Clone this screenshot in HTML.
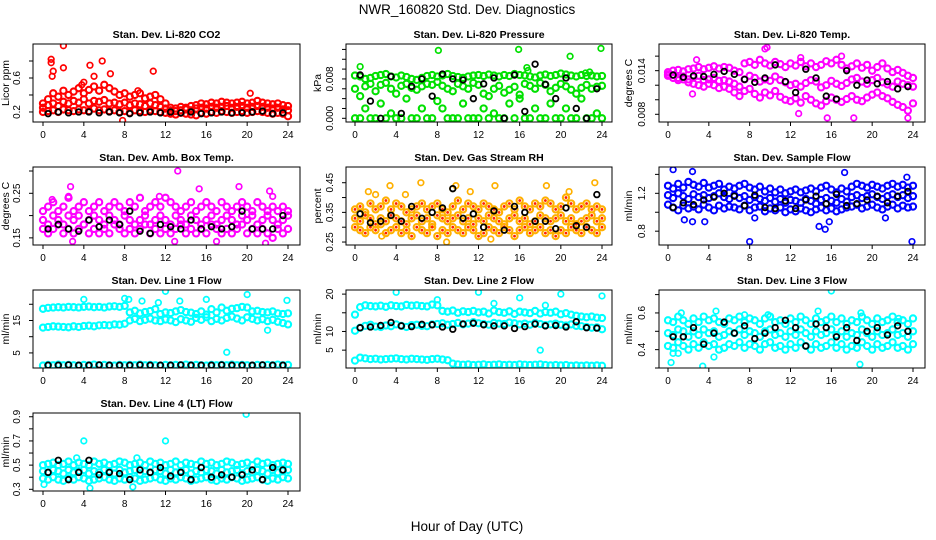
<!DOCTYPE html>
<html><head><meta charset="utf-8">
<style>
html,body{margin:0;padding:0;background:#fff;}
svg{display:block;font-family:"Liberation Sans",Arial,sans-serif;}
</style></head>
<body>
<svg id="chart" width="936" height="540" viewBox="0 0 936 540" xmlns="http://www.w3.org/2000/svg">
<text x="467" y="14" font-size="13.5" text-anchor="middle">NWR_160820  Std. Dev. Diagnostics</text>
<text x="467" y="531" font-size="13.5" text-anchor="middle">Hour of Day (UTC)</text>
</svg>
<script>
const xTicks = [0,4,8,12,16,20,24];

const co2A = [0.30,0.35,0.42,0.38,0.45,0.40,0.44,0.48,0.42,0.46,0.50,0.45,0.52,0.48,0.44,0.40,0.42,0.38,0.40,0.42,0.36,0.38,0.40,0.35,0.30,0.25,0.24,0.26,0.25,0.27,0.28,0.30,0.29,0.31,0.30,0.32,0.31,0.30,0.31,0.32,0.30,0.31,0.33,0.31,0.30,0.29,0.30,0.28,0.27];
const co2B = [0.25,0.28,0.30,0.27,0.32,0.30,0.33,0.31,0.35,0.30,0.33,0.32,0.34,0.30,0.31,0.29,0.31,0.28,0.30,0.29,0.27,0.30,0.28,0.26,0.24,0.22,0.21,0.22,0.23,0.22,0.24,0.25,0.24,0.26,0.25,0.26,0.27,0.25,0.26,0.27,0.25,0.26,0.27,0.26,0.25,0.24,0.25,0.23,0.22];
const co2C = [0.20,0.21,0.22,0.20,0.23,0.22,0.21,0.23,0.22,0.21,0.24,0.22,0.23,0.21,0.22,0.20,0.21,0.19,0.22,0.21,0.20,0.22,0.21,0.20,0.19,0.18,0.17,0.19,0.18,0.17,0.16,0.19,0.18,0.20,0.19,0.21,0.20,0.19,0.20,0.21,0.19,0.20,0.21,0.20,0.19,0.18,0.19,0.18,0.15];
const co2Out = [[0.8,0.82],[0.8,0.78],[2,0.98],[2,0.72],[1,0.68],[0.9,0.62],[5,0.62],[4.6,0.75],[5.8,0.8],[6.6,0.65],[10.8,0.68],[3.8,0.52],[4,0.55],[7.8,0.1],[9.3,0.45],[20.3,0.42]];
const co2Black = [0.18,0.2,0.19,0.2,0.2,0.19,0.2,0.19,0.18,0.19,0.2,0.19,0.2,0.19,0.2,0.18,0.19,0.2,0.19,0.19,0.2,0.21,0.18,0.19];

const presA = [0.0087,0.0085,0.0080,0.0082,0.0086,0.0088,0.0090,0.0085,0.0083,0.0087,0.0084,0.0080,0.0078,0.0082,0.0086,0.0088,0.0085,0.0087,0.0090,0.0086,0.0084,0.0082,0.0085,0.0087,0.0088,0.0086,0.0089,0.0087,0.0085,0.0088,0.0086,0.0090,0.0088,0.0087,0.0085,0.0083,0.0087,0.0089,0.0086,0.0088,0.0091,0.0089,0.0087,0.0085,0.0088,0.0086,0.0087,0.0085,0.0086];
const presB = [0.0060,0.0045,0.0065,0.0070,0.0055,0.0068,0.0072,0.0060,0.0050,0.0066,0.0070,0.0062,0.0058,0.0065,0.0070,0.0068,0.0074,0.0066,0.0060,0.0055,0.0070,0.0065,0.0060,0.0072,0.0068,0.0050,0.0045,0.0060,0.0066,0.0052,0.0058,0.0064,0.0048,0.0070,0.0066,0.0060,0.0072,0.0068,0.0055,0.0062,0.0070,0.0065,0.0058,0.0050,0.0062,0.0068,0.0060,0.0064,0.0066];
const presC = [0,0,0.002,0,0,0.003,0,0.001,0,0,0.004,0,0,0.002,0,0,0.0035,0.002,0,0,0,0.003,0,0,0,0.002,0,0.001,0,0,0.003,0,0.004,0,0,0.002,0,0,0.003,0,0,0.002,0,0,0.004,0,0,0.001,0];
const presOut = [[0.5,0.0105],[8.1,0.0138],[15.9,0.014],[16.7,0.0103],[16.8,0.0097],[20.9,0.0126],[23.9,0.0142],[22.4,0.0092],[22.8,0.0094]];
const presBlack = [0.0088,0.0035,0,0.0085,0.001,0.0065,0.008,0.0045,0.0090,0.0080,0.0078,0.0040,0.007,0.0082,0,0.0088,0.0014,0.0110,0.0069,0.004,0.0082,0.0020,0,0.0060];

const tempA = [0.0138,0.0140,0.0141,0.0139,0.0142,0.0143,0.0145,0.0142,0.0144,0.0146,0.0143,0.0145,0.0144,0.0140,0.0138,0.0150,0.0152,0.0148,0.0155,0.0150,0.0147,0.0152,0.0149,0.0145,0.0150,0.0147,0.0152,0.0146,0.0150,0.0145,0.0148,0.0153,0.0150,0.0155,0.0148,0.0143,0.0146,0.0150,0.0144,0.0148,0.0140,0.0145,0.0150,0.0143,0.0138,0.0141,0.0137,0.0133,0.0130];
const tempB = [0.0135,0.0134,0.0130,0.0132,0.0128,0.0131,0.0133,0.0127,0.0128,0.0130,0.0126,0.0127,0.0125,0.0122,0.0118,0.0128,0.0133,0.0130,0.0125,0.0128,0.0126,0.0132,0.0127,0.0124,0.0120,0.0122,0.0118,0.0123,0.0127,0.0125,0.0117,0.0120,0.0126,0.0122,0.0119,0.0123,0.0128,0.0130,0.0125,0.0122,0.0127,0.0130,0.0124,0.0121,0.0118,0.0125,0.0122,0.0120,0.0118];
const tempC = [0.0133,0.0130,0.0127,0.0128,0.0124,0.0122,0.0120,0.0118,0.0122,0.0120,0.0116,0.0118,0.0115,0.0110,0.0105,0.0112,0.0115,0.0108,0.0103,0.0110,0.0106,0.0112,0.0104,0.0100,0.0098,0.0102,0.0096,0.0105,0.0100,0.0095,0.0092,0.0098,0.0103,0.0100,0.0097,0.0101,0.0105,0.0100,0.0098,0.0103,0.0107,0.0110,0.0105,0.0102,0.0097,0.0093,0.0090,0.0085,0.0095];
const tempOut = [[2.4,0.0108],[9.5,0.0170],[9.7,0.0172],[12.8,0.0081],[15.6,0.0075],[18.2,0.0075],[23.5,0.0075],[17,0.0160],[13,0.0158],[2.8,0.0155]];
const tempBlack = [0.0134,0.0131,0.0133,0.0132,0.0135,0.0139,0.0135,0.0128,0.0124,0.0130,0.0148,0.0125,0.0110,0.0142,0.0130,0.0105,0.0101,0.0140,0.0120,0.0127,0.0122,0.0125,0.0115,0.0118];

const ambA = [0.21,0.22,0.23,0.21,0.22,0.24,0.21,0.22,0.23,0.21,0.22,0.23,0.21,0.22,0.23,0.22,0.21,0.23,0.22,0.24,0.21,0.22,0.23,0.22,0.24,0.23,0.22,0.21,0.22,0.23,0.21,0.22,0.23,0.22,0.21,0.23,0.22,0.21,0.22,0.23,0.22,0.21,0.23,0.22,0.21,0.22,0.21,0.22,0.21];
const ambB = [0.19,0.18,0.20,0.19,0.18,0.20,0.19,0.20,0.18,0.19,0.20,0.19,0.18,0.20,0.19,0.18,0.20,0.19,0.18,0.19,0.20,0.18,0.19,0.20,0.19,0.18,0.20,0.19,0.18,0.20,0.19,0.18,0.19,0.20,0.18,0.19,0.20,0.19,0.18,0.20,0.19,0.20,0.18,0.19,0.20,0.19,0.18,0.19,0.20];
const ambC = [0.17,0.16,0.17,0.18,0.16,0.17,0.16,0.17,0.18,0.16,0.17,0.16,0.17,0.16,0.18,0.17,0.16,0.17,0.16,0.17,0.18,0.16,0.17,0.16,0.17,0.16,0.17,0.18,0.16,0.17,0.16,0.17,0.16,0.18,0.17,0.16,0.17,0.16,0.17,0.18,0.16,0.17,0.16,0.17,0.16,0.15,0.17,0.16,0.17];
const ambOut = [[2.7,0.265],[2.5,0.243],[13.2,0.30],[15.3,0.26],[19.2,0.265],[22.2,0.255],[22.5,0.243],[2.9,0.142],[12.9,0.142],[17,0.142],[21.8,0.138],[0.9,0.236],[11.4,0.243]];
const ambBlack = [0.17,0.18,0.17,0.165,0.19,0.175,0.19,0.18,0.21,0.165,0.16,0.18,0.175,0.17,0.19,0.17,0.175,0.17,0.175,0.21,0.17,0.17,0.17,0.2];

const rhA = [0.36,0.37,0.35,0.38,0.36,0.37,0.39,0.36,0.38,0.37,0.35,0.36,0.37,0.38,0.36,0.37,0.38,0.36,0.35,0.37,0.39,0.36,0.38,0.37,0.36,0.38,0.37,0.36,0.35,0.37,0.38,0.36,0.39,0.37,0.36,0.38,0.37,0.39,0.38,0.36,0.37,0.40,0.38,0.36,0.37,0.38,0.36,0.37,0.36];
const rhB = [0.33,0.32,0.34,0.33,0.31,0.33,0.32,0.34,0.33,0.32,0.31,0.33,0.34,0.32,0.33,0.31,0.34,0.33,0.32,0.33,0.34,0.32,0.33,0.31,0.33,0.32,0.34,0.33,0.32,0.31,0.33,0.34,0.32,0.33,0.31,0.32,0.34,0.33,0.32,0.33,0.34,0.32,0.33,0.31,0.32,0.33,0.34,0.32,0.33];
const rhC = [0.30,0.29,0.28,0.30,0.29,0.31,0.28,0.29,0.30,0.28,0.29,0.27,0.30,0.29,0.28,0.30,0.27,0.29,0.28,0.30,0.29,0.28,0.30,0.29,0.27,0.28,0.30,0.29,0.28,0.30,0.29,0.27,0.29,0.30,0.28,0.29,0.30,0.28,0.29,0.27,0.29,0.28,0.30,0.29,0.28,0.30,0.29,0.28,0.30];
const rhOut = [[1.3,0.42],[2,0.41],[3.4,0.44],[6.4,0.45],[9.5,0.43],[9.8,0.44],[11.2,0.42],[13.6,0.44],[18.6,0.44],[20.8,0.42],[23.3,0.45],[8.9,0.25],[13.2,0.26],[2.6,0.27],[4.9,0.41]];
const rhBlack = [0.345,0.315,0.32,0.34,0.32,0.37,0.33,0.35,0.365,0.43,0.33,0.345,0.30,0.355,0.29,0.37,0.35,0.32,0.32,0.295,0.365,0.305,0.30,0.41];

const flowA = [1.28,1.25,1.30,1.26,1.32,1.29,1.27,1.31,1.26,1.28,1.30,1.24,1.27,1.25,1.28,1.30,1.26,1.24,1.27,1.22,1.25,1.21,1.24,1.20,1.22,1.24,1.21,1.23,1.25,1.22,1.26,1.28,1.24,1.21,1.25,1.22,1.27,1.30,1.28,1.26,1.29,1.27,1.25,1.28,1.30,1.27,1.29,1.26,1.28];
const flowB = [1.18,1.15,1.20,1.17,1.14,1.19,1.16,1.18,1.15,1.17,1.20,1.16,1.14,1.18,1.15,1.17,1.13,1.16,1.14,1.12,1.15,1.11,1.14,1.10,1.13,1.12,1.10,1.14,1.12,1.09,1.13,1.15,1.12,1.10,1.14,1.11,1.16,1.18,1.15,1.17,1.19,1.16,1.14,1.17,1.19,1.16,1.18,1.15,1.17];
const flowC = [1.08,1.05,1.02,1.07,1.04,1.06,1.03,1.08,1.05,1.02,1.07,1.04,1.06,1.05,1.03,1.07,1.02,1.05,1.06,1.01,1.04,1.02,1.05,1.00,1.03,1.01,1.04,1.02,1.00,1.03,1.05,1.02,1.04,1.01,1.03,1.05,1.06,1.08,1.04,1.06,1.08,1.05,1.03,1.06,1.08,1.04,1.07,1.05,1.06];
const flowOut = [[0.5,1.45],[1.6,0.92],[2.4,1.43],[2.4,0.9],[3.6,0.9],[8,0.69],[8.5,0.94],[14.8,0.85],[15.4,0.82],[15.8,0.9],[17.3,1.42],[21.3,0.94],[23.9,0.69],[23.4,1.37]];
const flowBlack = [1.05,1.1,1.08,1.13,1.16,1.2,1.17,1.07,1.18,1.05,1.04,1.12,1.04,1.13,1.17,1.09,1.19,1.07,1.09,1.13,1.17,1.1,1.17,1.22];

const l1A = [18.6,18.9,19.0,19.1,19.0,19.2,19.1,19.0,19.2,19.3,19.1,19.2,19.0,19.3,19.4,19.2,19.5,17.5,18.0,17.2,17.6,17.9,18.5,17.0,17.5,17.3,17.8,18.2,17.6,17.4,17.0,17.8,16.8,18.5,17.5,19.0,18.0,18.6,18.8,19.2,19.0,17.8,18.0,17.6,17.5,17.8,17.2,17.0,17.2];
const l1B = [12.8,13.0,13.2,13.1,13.0,12.9,13.2,13.0,13.3,13.4,13.2,13.5,13.6,13.5,13.8,13.7,14.0,15.0,15.5,14.8,15.2,15.6,15.0,14.8,15.3,15.0,14.5,15.4,15.0,14.6,15.8,15.2,16.0,14.8,15.5,15.0,15.8,16.2,15.6,15.0,16.0,15.5,15.0,15.4,14.8,15.2,14.6,14.2,13.8];
const l1C = [1.1,1.3,1.2,1.4,1.2,1.3,1.2,1.1,1.3,1.2,1.4,1.2,1.3,1.2,1.1,1.3,1.2,1.3,1.2,1.4,1.2,1.3,1.2,1.1,1.3,1.2,1.3,1.2,1.4,1.2,1.3,1.2,1.1,1.3,1.2,1.3,1.2,1.4,1.2,1.3,1.2,1.1,1.3,1.2,1.3,1.2,1.4,1.2,1.3];
const l1Out = [[4,21.5],[8,21.8],[8.4,21.5],[12,24],[13.4,21],[16,21.5],[18,5.2],[20,23],[22,12],[23.9,21.2],[9.7,21],[11.3,20.5]];
const l1Black = [1.2,1.2,1.3,1.2,1.2,1.3,1.2,1.2,1.2,1.3,1.2,1.2,1.2,1.3,1.2,1.2,1.2,1.3,1.2,1.2,1.2,1.3,1.2,1.2];

const l2A = [14.5,16.5,17.0,16.8,16.7,16.9,16.6,17.0,16.8,16.7,17.1,16.9,17.0,16.8,16.7,17.2,17.0,15.5,15.3,15.6,15.0,15.4,15.2,15.5,15.1,15.3,14.8,15.6,15.2,15.0,15.4,14.7,15.3,15.1,14.9,15.5,14.8,15.2,15.0,15.3,14.6,14.9,14.5,14.2,14.0,13.8,14.0,13.7,13.6];
const l2B = [10.2,11.0,11.5,11.8,11.3,11.2,11.6,11.4,11.9,11.5,11.2,11.7,11.8,11.5,11.4,11.9,12.0,12.2,11.8,12.0,12.3,11.9,12.1,12.5,12.2,12.0,11.8,12.3,12.1,12.0,12.4,12.2,11.9,12.1,11.8,12.3,12.0,11.7,11.9,12.1,11.8,11.6,11.9,11.5,11.4,11.2,11.0,11.1,10.6];
const l2C = [2.2,3.0,2.8,2.6,2.7,2.5,2.6,2.7,2.8,2.6,2.5,2.7,2.6,2.5,2.4,2.6,2.7,2.5,2.3,1.4,1.2,1.1,1.2,1.0,1.1,1.2,1.0,1.1,1.2,1.0,1.1,1.0,1.2,1.1,1.0,1.1,1.2,1.0,0.9,1.0,0.9,1.0,0.8,0.9,0.8,0.9,0.8,0.9,0.8];
const l2Out = [[4,20.5],[8,18.5],[12,20.5],[16,19],[20,20],[24,19.5],[18,5],[13.5,17.5],[18.5,17]];
const l2Black = [11,11.2,11.6,12.4,11.5,11.3,11.9,11.8,11.2,10.6,12,12.2,11.8,11.5,11.5,10.8,11.3,12,11.5,11.6,11.2,12.6,11,10.9];

const l3A = [0.56,0.55,0.58,0.56,0.54,0.57,0.55,0.58,0.56,0.57,0.55,0.54,0.57,0.56,0.58,0.55,0.57,0.56,0.54,0.57,0.58,0.55,0.56,0.54,0.57,0.55,0.58,0.56,0.54,0.57,0.55,0.56,0.58,0.55,0.57,0.54,0.56,0.55,0.58,0.56,0.54,0.57,0.55,0.56,0.58,0.55,0.56,0.54,0.57];
const l3B = [0.49,0.48,0.51,0.50,0.47,0.50,0.48,0.51,0.49,0.50,0.47,0.48,0.50,0.49,0.51,0.48,0.50,0.49,0.47,0.50,0.51,0.48,0.49,0.47,0.50,0.48,0.51,0.49,0.47,0.50,0.48,0.49,0.51,0.48,0.50,0.47,0.49,0.48,0.51,0.49,0.47,0.50,0.48,0.49,0.51,0.48,0.49,0.47,0.50];
const l3C = [0.42,0.41,0.44,0.42,0.40,0.43,0.41,0.44,0.42,0.43,0.40,0.41,0.43,0.42,0.44,0.41,0.43,0.42,0.40,0.43,0.44,0.41,0.42,0.40,0.43,0.41,0.44,0.42,0.40,0.43,0.41,0.42,0.44,0.41,0.43,0.40,0.42,0.41,0.44,0.42,0.40,0.43,0.41,0.42,0.44,0.41,0.42,0.40,0.43];
const l3Out = [[0.3,0.33],[1,0.38],[1.3,0.6],[3.4,0.31],[4.7,0.61],[4.5,0.36],[16,0.72],[14.7,0.61],[18.8,0.32],[18.9,0.6],[22.6,0.57],[7.5,0.59],[9.8,0.59],[0.5,0.38]];
const l3Black = [0.47,0.47,0.52,0.43,0.49,0.55,0.49,0.53,0.46,0.49,0.52,0.56,0.52,0.42,0.54,0.52,0.47,0.52,0.45,0.5,0.52,0.48,0.53,0.5];

const l4A = [0.50,0.51,0.52,0.50,0.51,0.53,0.50,0.52,0.51,0.50,0.53,0.51,0.52,0.50,0.51,0.53,0.52,0.50,0.51,0.52,0.50,0.53,0.51,0.52,0.50,0.51,0.53,0.50,0.52,0.51,0.50,0.53,0.51,0.52,0.50,0.51,0.53,0.52,0.50,0.51,0.52,0.50,0.53,0.51,0.52,0.50,0.51,0.52,0.51];
const l4B = [0.45,0.44,0.46,0.45,0.43,0.46,0.44,0.45,0.46,0.43,0.45,0.44,0.46,0.45,0.43,0.46,0.44,0.45,0.46,0.43,0.45,0.44,0.46,0.45,0.43,0.46,0.44,0.45,0.46,0.43,0.45,0.44,0.46,0.45,0.43,0.46,0.44,0.45,0.46,0.43,0.45,0.44,0.46,0.45,0.43,0.46,0.44,0.45,0.46];
const l4C = [0.39,0.38,0.40,0.38,0.37,0.39,0.38,0.40,0.39,0.37,0.38,0.39,0.40,0.38,0.37,0.39,0.38,0.40,0.39,0.37,0.38,0.39,0.40,0.38,0.37,0.39,0.38,0.40,0.39,0.37,0.38,0.39,0.40,0.38,0.37,0.39,0.38,0.40,0.39,0.37,0.38,0.39,0.40,0.38,0.37,0.39,0.38,0.40,0.39];
const l4Out = [[4,0.7],[12,0.7],[19.9,0.92],[4.6,0.31],[8.8,0.32],[0.1,0.34],[3.3,0.56],[9.2,0.56]];
const l4Black = [0.44,0.54,0.38,0.44,0.54,0.42,0.44,0.43,0.38,0.46,0.44,0.48,0.41,0.44,0.38,0.48,0.40,0.42,0.40,0.42,0.46,0.38,0.48,0.46];

const co2Ticks = [0.2,0.4,0.6,0.8], co2Labels = ["0.2","","0.6",""];
const presTicks = [0,0.002,0.004,0.006,0.008,0.010,0.012,0.014], presLabels = ["0.000","","","","0.008","","",""];
const tempTicks = [0.008,0.010,0.012,0.014,0.016], tempLabels = ["0.008","","","0.014",""];
const ambTicks = [0.15,0.20,0.25,0.30], ambLabels = ["0.15","","0.25",""];
const rhTicks = [0.25,0.30,0.35,0.40,0.45], rhLabels = ["0.25","","0.35","","0.45"];
const flowTicks = [0.8,1.0,1.2,1.4], flowLabels = ["0.8","","1.2",""];
const l1Ticks = [5,10,15,20], l1Labels = ["5","","15",""];
const l2Ticks = [5,10,15,20], l2Labels = ["5","10","","20"];
const l3Ticks = [0.3,0.4,0.5,0.6,0.7], l3Labels = ["","0.4","","0.6",""];
const l4Ticks = [0.3,0.4,0.5,0.6,0.7,0.8,0.9], l4Labels = ["0.3","","0.5","","0.7","","0.9"];

const COLS = [{l:33,r:300,x0:43,x24:288,tl:20,yl:9},{l:346,r:612,x0:355,x24:602,tl:333,yl:321},{l:659,r:925,x0:668,x24:913,tl:645,yl:632}];
const ROWS = [44,167,290,413];
const BOXH = 78;

const panels = [
 {name:"co2",title:"Stan. Dev. Li-820 CO2",ylab:"Licor ppm",c:0,r:0,dom:[0.082,1.0],col:"#ff0000",s:[co2A,co2B,co2C],out:co2Out,blk:co2Black,ticks:co2Ticks,labels:co2Labels},
 {name:"pressure",title:"Stan. Dev. Li-820 Pressure",ylab:"kPa",c:1,r:0,dom:[-0.00075,0.0151],col:"#00e000",s:[presA,presB,presC],out:presOut,blk:presBlack,ticks:presTicks,labels:presLabels},
 {name:"temp",title:"Stan. Dev. Li-820 Temp.",ylab:"degrees C",c:2,r:0,dom:[0.00694,0.01767],col:"#ff00ff",s:[tempA,tempB,tempC],out:tempOut,blk:tempBlack,ticks:tempTicks,labels:tempLabels},
 {name:"amb-box-temp",title:"Stan. Dev. Amb. Box Temp.",ylab:"degrees C",c:0,r:1,dom:[0.134,0.309],col:"#ff00ff",s:[ambA,ambB,ambC],out:ambOut,blk:ambBlack,ticks:ambTicks,labels:ambLabels},
 {name:"gas-rh",title:"Stan. Dev. Gas Stream RH",ylab:"percent",c:1,r:1,dom:[0.24,0.503],col:"#ffb000",s:[rhA,rhB,rhC],out:rhOut,blk:rhBlack,ticks:rhTicks,labels:rhLabels,inner:"#ff2000"},
 {name:"sample-flow",title:"Stan. Dev. Sample Flow",ylab:"ml/min",c:2,r:1,dom:[0.654,1.478],col:"#0000ff",s:[flowA,flowB,flowC],out:flowOut,blk:flowBlack,ticks:flowTicks,labels:flowLabels},
 {name:"line1-flow",title:"Stan. Dev. Line 1 Flow",ylab:"ml/min",c:0,r:2,dom:[0.35,24.4],col:"#00ffff",s:[l1A,l1B,l1C],out:l1Out,blk:l1Black,ticks:l1Ticks,labels:l1Labels},
 {name:"line2-flow",title:"Stan. Dev. Line 2 Flow",ylab:"ml/min",c:1,r:2,dom:[0.22,21.1],col:"#00ffff",s:[l2A,l2B,l2C],out:l2Out,blk:l2Black,ticks:l2Ticks,labels:l2Labels},
 {name:"line3-flow",title:"Stan. Dev. Line 3 Flow",ylab:"ml/min",c:2,r:2,dom:[0.30,0.725],col:"#00ffff",s:[l3A,l3B,l3C],out:l3Out,blk:l3Black,ticks:l3Ticks,labels:l3Labels},
 {name:"line4-flow",title:"Stan. Dev. Line 4 (LT) Flow",ylab:"ml/min",c:0,r:3,dom:[0.286,0.931],col:"#00ffff",s:[l4A,l4B,l4C],out:l4Out,blk:l4Black,ticks:l4Ticks,labels:l4Labels}
];

const svg = document.getElementById('chart');
const NS = "http://www.w3.org/2000/svg";
function mk(tag, attrs, parent){
  const e = document.createElementNS(NS, tag);
  for (const k in attrs) e.setAttribute(k, attrs[k]);
  (parent||svg).appendChild(e);
  return e;
}

panels.forEach(p=>{
  const C = COLS[p.c], top = ROWS[p.r], bot = top + BOXH;
  const xs = h => C.x0 + (C.x24 - C.x0) * h / 24;
  const ys = v => bot - (v - p.dom[0]) / (p.dom[1] - p.dom[0]) * BOXH;
  const g = mk('g', {});
  
  
  const clip = mk('clipPath', {id:'clip-'+p.name}, g);
  mk('rect', {x:C.l, y:top, width:C.r-C.l, height:BOXH}, clip);

  const t = mk('text', {x:(C.l+C.r)/2, y:top-6, 'font-size':10.5, 'font-weight':'bold', 'text-anchor':'middle'}, g);
  t.textContent = p.title;
  
  

  const yl = mk('text', {x:C.yl, y:(top+bot)/2, 'font-size':10.5, 'text-anchor':'middle', transform:`rotate(-90 ${C.yl} ${(top+bot)/2})`}, g);
  yl.textContent = p.ylab;
  
  

  const pts = mk('g', {'clip-path':`url(#clip-${p.name})`, fill:'none'}, g);
  
  
  p.s.forEach(arr=>{
    arr.forEach((v,i)=>{
      const c = mk('circle', {cx:xs(i*0.5), cy:ys(v), r:3.1, stroke:p.col, 'stroke-width':2.1}, pts);
      
      
      if (p.inner){ mk('circle', {cx:xs(i*0.5), cy:ys(v), r:1.4, fill:p.inner, stroke:'none'}, pts); }
    });
  });
  p.out.forEach(o=>{
    const c = mk('circle', {cx:xs(o[0]), cy:ys(o[1]), r:2.8, stroke:p.col, 'stroke-width':1.7}, pts);
    
    
  });
  p.blk.forEach((v,i)=>{
    const c = mk('circle', {cx:xs(i+0.5), cy:ys(v), r:2.8, stroke:'#000', 'stroke-width':1.8}, pts);
    
    
  });

  const box = mk('rect', {x:C.l, y:top, width:C.r-C.l, height:BOXH, fill:'none', stroke:'#000', 'stroke-width':1}, g);
  
  

  const xa = mk('g', {}, g);
  
  
  xTicks.forEach(h=>{
    mk('line', {x1:xs(h), x2:xs(h), y1:bot, y2:bot+4, stroke:'#000'}, xa);
    const tx = mk('text', {x:xs(h), y:bot+16, 'font-size':10, 'text-anchor':'middle'}, xa);
    tx.textContent = h;
  });
  const ya = mk('g', {}, g);
  
  
  p.ticks.forEach((v,i)=>{
    const y = ys(v);
    mk('line', {x1:C.l-4, x2:C.l, y1:y, y2:y, stroke:'#000'}, ya);
    if (p.labels[i]){
      const tx = mk('text', {x:C.tl, y:y, 'font-size':10, 'text-anchor':'middle', transform:`rotate(-90 ${C.tl} ${y})`}, ya);
      tx.textContent = p.labels[i];
    }
  });
});
</script>
</body></html>
